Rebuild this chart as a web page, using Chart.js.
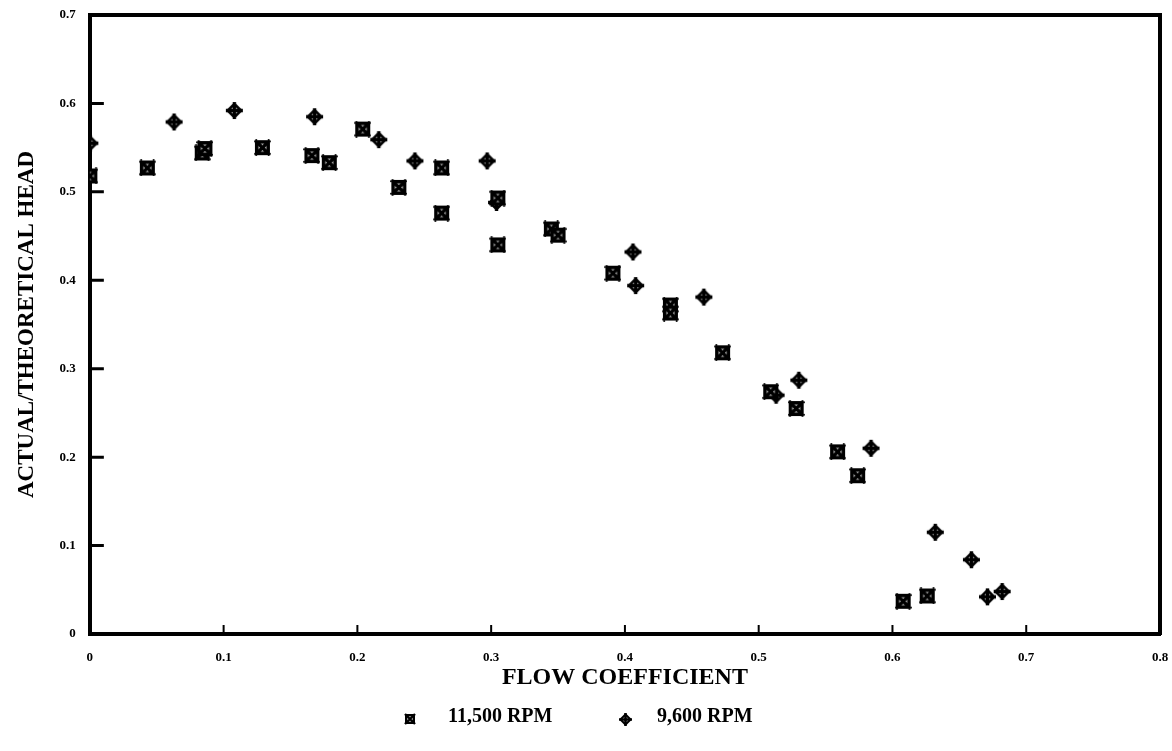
<!DOCTYPE html>
<html>
<head>
<meta charset="utf-8">
<script src="https://cdn.jsdelivr.net/npm/chart.js@4.4.1/dist/chart.umd.min.js"></script>
<style>
  html, body { margin: 0; padding: 0; background: #fff; }
  #wrap { position: relative; width: 1172px; height: 751px; }
  #legend { position: absolute; left: 0; top: 0; width: 1172px; height: 751px; pointer-events: none;
            font: bold 20px 'Liberation Serif', 'Times New Roman', serif; color: #000; }
  #legend .mk, #legend .tx { position: absolute; }
  #legend .tx { line-height: 24px; white-space: nowrap; }
</style>
</head>
<body>
<div id="wrap"><canvas id="chart"></canvas><div id="legend"></div></div>
<script>
'use strict';

// flow coefficient / head ratio
var flow11500 = [0.0, 0.043, 0.084, 0.086, 0.129, 0.166, 0.179, 0.204, 0.231, 0.263, 0.263,
                 0.305, 0.305, 0.345, 0.350, 0.391, 0.434, 0.434, 0.473, 0.509, 0.528,
                 0.559, 0.574, 0.608, 0.626];
var head11500 = [0.518, 0.527, 0.544, 0.549, 0.550, 0.541, 0.533, 0.571, 0.505, 0.527, 0.476,
                 0.493, 0.440, 0.458, 0.451, 0.408, 0.372, 0.363, 0.318, 0.274, 0.255,
                 0.206, 0.179, 0.037, 0.043];

var flow9600 = [0.0, 0.063, 0.108, 0.168, 0.216, 0.243, 0.297, 0.304, 0.406, 0.408, 0.459,
                0.513, 0.530, 0.584, 0.632, 0.659, 0.671, 0.682];
var head9600 = [0.555, 0.579, 0.592, 0.585, 0.559, 0.535, 0.535, 0.488, 0.432, 0.394, 0.381,
                0.270, 0.287, 0.210, 0.115, 0.084, 0.042, 0.048];

var seriesNames = ['11,500 RPM', '9,600 RPM'];

var serif = "'Liberation Serif', 'Times New Roman', serif";

function toPoints(xs, ys) {
    var out = [];
    for (var i = 0; i < xs.length; i++) out.push({ x: xs[i], y: ys[i] });
    return out;
}

// boxed-x marker
function squareMarker(s) {
    var c = document.createElement('canvas');
    c.width = s + 2; c.height = s + 2;
    var g = c.getContext('2d');
    g.fillStyle = '#000';
    g.fillRect(1, 1, s, s);
    g.fillStyle = '#fff';
    var i = s * 0.24;
    g.fillRect(1 + i, 1 + i, s - 2 * i, s - 2 * i);
    g.strokeStyle = '#000';
    g.lineWidth = s * 0.24;
    g.beginPath();
    g.moveTo(1, 1); g.lineTo(1 + s, 1 + s);
    g.moveTo(1 + s, 1); g.lineTo(1, 1 + s);
    g.stroke();
    return c;
}

// diamond with a cross
function diamondMarker(s) {
    var c = document.createElement('canvas');
    c.width = s + 2; c.height = s + 2;
    var g = c.getContext('2d');
    var m = (s + 2) / 2, r = s / 2;
    g.fillStyle = '#000';
    g.beginPath();
    g.moveTo(m, m - r); g.lineTo(m + r, m); g.lineTo(m, m + r); g.lineTo(m - r, m);
    g.closePath(); g.fill();
    var ri = r * 0.55;
    g.fillStyle = '#fff';
    g.beginPath();
    g.moveTo(m, m - ri); g.lineTo(m + ri, m); g.lineTo(m, m + ri); g.lineTo(m - ri, m);
    g.closePath(); g.fill();
    g.strokeStyle = '#000';
    g.lineWidth = s * 0.2;
    g.beginPath();
    g.moveTo(m, m - r); g.lineTo(m, m + r);
    g.moveTo(m - r, m); g.lineTo(m + r, m);
    g.stroke();
    return c;
}

var sqBig = squareMarker(15), dmBig = diamondMarker(17);

// short tick marks pointing into the plot
var inwardTicks = {
    id: 'inwardTicks',
    afterDatasetsDraw: function (chart) {
        var ctx = chart.ctx, a = chart.chartArea;
        var x = chart.scales.x, y = chart.scales.y;
        ctx.save();
        ctx.strokeStyle = '#000';
        ctx.lineWidth = 2;
        ctx.beginPath();
        x.ticks.forEach(function (t) {
            var px = x.getPixelForValue(t.value);
            ctx.moveTo(px, a.bottom); ctx.lineTo(px, a.bottom - 9);
        });
        ctx.stroke();
        ctx.lineWidth = 3;
        ctx.beginPath();
        y.ticks.forEach(function (t) {
            var py = y.getPixelForValue(t.value);
            ctx.moveTo(a.left, py); ctx.lineTo(a.left + 14, py);
        });
        ctx.stroke();
        ctx.restore();
    }
};

Chart.defaults.color = '#000';
Chart.defaults.font.family = serif;

var chart = new Chart(document.getElementById('chart'), {
    type: 'scatter',
    data: {
        datasets: [{
            label: seriesNames[0],
            data: toPoints(flow11500, head11500),
            pointStyle: sqBig,
            pointRadius: 7,
            borderColor: '#000',
            backgroundColor: '#000'
        }, {
            label: seriesNames[1],
            data: toPoints(flow9600, head9600),
            pointStyle: dmBig,
            pointRadius: 7,
            borderColor: '#000',
            backgroundColor: '#000'
        }]
    },
    options: {
        responsive: true,
        maintainAspectRatio: false,
        animation: false,
        layout: { padding: { left: 13, right: 12, top: 15, bottom: 55 } },
        plugins: {
            tooltip: { enabled: false },
            legend: { display: false }
        },
        scales: {
            x: {
                type: 'linear',
                min: 0, max: 0.8,
                afterFit: function (s) { s.paddingRight = 0; },
                ticks: { stepSize: 0.1, padding: 16, font: { size: 13, weight: 'bold' } },
                grid: { drawOnChartArea: false, drawTicks: false },
                border: { display: true, color: '#000', width: 4 },
                title: {
                    display: true, text: 'FLOW COEFFICIENT',
                    font: { size: 24, weight: 'bold', lineHeight: 0.6 }, padding: { top: -11, bottom: 11 }
                }
            },
            y: {
                type: 'linear',
                min: 0, max: 0.7,
                afterFit: function (s) { s.paddingTop = 0; },
                ticks: { stepSize: 0.1, padding: 14, font: { size: 13, weight: 'bold' } },
                grid: { drawOnChartArea: false, drawTicks: false },
                border: { display: true, color: '#000', width: 4 },
                title: {
                    display: true, text: 'ACTUAL/THEORETICAL HEAD',
                    font: { size: 23, weight: 'bold' }, padding: { top: 0, bottom: 5 }
                }
            },
            xTop: {
                type: 'linear', position: 'top', min: 0, max: 0.8,
                ticks: { display: false },
                grid: { drawOnChartArea: false, drawTicks: false },
                border: { display: true, color: '#000', width: 4 }
            },
            yRight: {
                type: 'linear', position: 'right', min: 0, max: 0.7,
                ticks: { display: false },
                grid: { drawOnChartArea: false, drawTicks: false },
                border: { display: true, color: '#000', width: 4 }
            }
        }
    },
    plugins: [inwardTicks]
});

// legend below the axis title, built from the dataset labels
var legendMarkers = [squareMarker(10), diamondMarker(13)];
var legendPos = [{ mk: 410, tx: 448 }, { mk: 625, tx: 657 }];
var legendY = 715;
var box = document.getElementById('legend');
chart.data.datasets.forEach(function (ds, i) {
    var m = legendMarkers[i];
    m.className = 'mk';
    m.style.left = (legendPos[i].mk - m.width / 2) + 'px';
    m.style.top = (legendY + 4 - m.height / 2) + 'px';
    box.appendChild(m);
    var t = document.createElement('span');
    t.className = 'tx';
    t.textContent = ds.label;
    t.style.left = legendPos[i].tx + 'px';
    t.style.top = (legendY - 12) + 'px';
    box.appendChild(t);
});
</script>
</body>
</html>
